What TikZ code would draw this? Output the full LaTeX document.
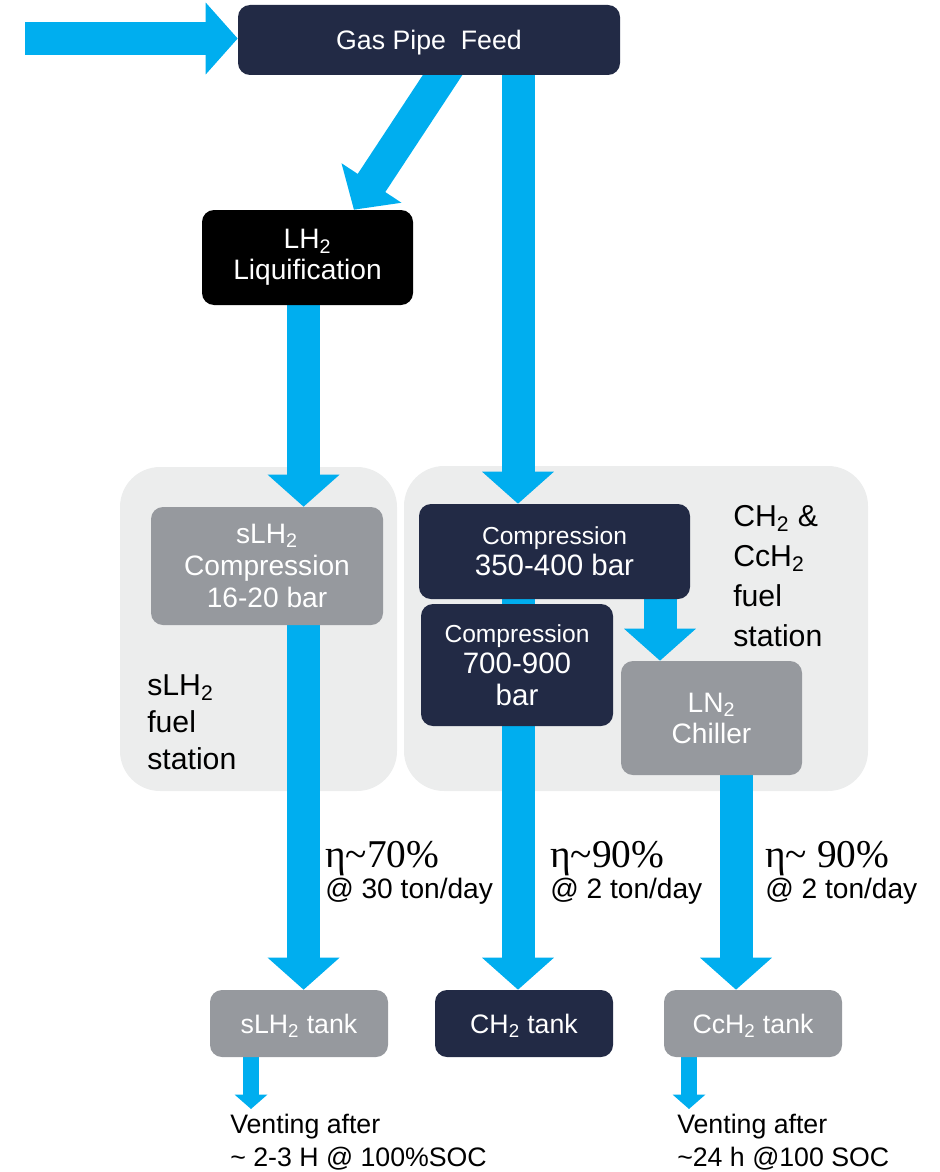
\documentclass[tikz,border=0pt]{standalone}
\usepackage{fontspec}
\setmainfont{Liberation Sans}
\newfontfamily\etafont{Liberation Serif}
\usetikzlibrary{arrows.meta, positioning}

\definecolor{navy}{HTML}{222A45}
\definecolor{flowblue}{HTML}{00AEEF}
\definecolor{boxgray}{HTML}{96999E}
\definecolor{panelgray}{HTML}{ECEDED}

\pgfdeclarelayer{panels}
\pgfdeclarelayer{flows}
\pgfsetlayers{panels,flows,main}

\begin{document}
\begin{tikzpicture}[
  box/.style={rectangle, rounded corners=0.3cm, text=white, align=center, inner sep=0pt},
  navybox/.style={box, fill=navy},
  graybox/.style={box, fill=boxgray},
  panel/.style={rectangle, rounded corners=1cm, fill=panelgray, inner sep=0pt},
  flow/.style={draw=flowblue, line width=0.825cm, -{Triangle[width=1.75cm, length=0.8cm]}},
  shaft/.style={draw=flowblue, line width=0.825cm},
  vent/.style={draw=flowblue, line width=0.4cm, -{Triangle[width=0.8cm, length=0.36cm]}},
  eta/.style={anchor=base west, inner sep=0pt, font=\etafont\fontsize{28}{30}\selectfont},
  rate/.style={anchor=base west, inner sep=0pt, font=\fontsize{20}{22}\selectfont},
  note/.style={anchor=west, align=left, inner sep=0pt}
]
\useasboundingbox (0,0) rectangle (23.5,-29.3);

% Station panels
\begin{pgfonlayer}{panels}
\node[panel, minimum width=6.925cm, minimum height=8.1cm] (panelL) at (6.4625,-15.725) {};
\node[panel, minimum width=11.6cm, minimum height=8.125cm] (panelR) at (15.9,-15.7125) {};
\end{pgfonlayer}

% Process boxes
\node[navybox, minimum width=9.55cm, minimum height=1.75cm, text depth=0pt, font=\fontsize{19}{22}\selectfont] (feed) at (10.725,-1.0) {Gas Pipe\ \ Feed};
\node[box, fill=black, minimum width=5.275cm, minimum height=2.375cm, font=\fontsize{20}{22}\selectfont] (liq) at (7.6875,-6.4375) {LH\textsubscript{2}\\Liquification};
\node[graybox, minimum width=5.8cm, minimum height=2.95cm, font=\fontsize{20}{23}\selectfont] (slhcomp) at (6.675,-14.15) {sLH\textsubscript{2}\\Compression\\16-20 bar};
\node[navybox, minimum width=6.775cm, minimum height=2.375cm, font=\fontsize{17.5}{22}\selectfont] (comp350) at (13.8625,-13.7875) {Compression\\\fontsize{21}{22}\selectfont 350-400 bar};
\node[navybox, minimum width=4.8cm, minimum height=3.05cm, font=\fontsize{17.5}{22.5}\selectfont] (comp700) at (12.925,-16.625) {Compression\\\fontsize{21}{22.5}\selectfont 700-900\\\fontsize{21}{22.5}\selectfont bar};
\node[graybox, minimum width=4.525cm, minimum height=2.85cm, font=\fontsize{20}{22}\selectfont] (chiller) at (17.7875,-17.95) {LN\textsubscript{2}\\Chiller};

% Tanks
\node[graybox, minimum width=4.45cm, minimum height=1.675cm, text depth=0pt, font=\fontsize{19}{22}\selectfont] (slhtank) at (7.475,-25.5875) {sLH\textsubscript{2} tank};
\node[navybox, minimum width=4.45cm, minimum height=1.675cm, text depth=0pt, font=\fontsize{19}{22}\selectfont] (chtank) at (13.1,-25.5875) {CH\textsubscript{2} tank};
\node[graybox, minimum width=4.45cm, minimum height=1.675cm, text depth=0pt, font=\fontsize{19}{22}\selectfont] (cchtank) at (18.825,-25.5875) {CcH\textsubscript{2} tank};

% Panel labels
\node[note, font=\fontsize{21.5}{26.3}\selectfont] (lblL) at (3.675,-18.05) {sLH\textsubscript{2}\\fuel\\station};
\node[note, font=\fontsize{21.5}{28.5}\selectfont] (lblR) at (18.325,-14.4) {CH\textsubscript{2} \&\\CcH\textsubscript{2}\\fuel\\station};

% Efficiencies
\node[eta] (etaL) at (8.125,-21.675) {η\textasciitilde70\%};
\node[eta] (etaM) at (13.75,-21.675) {η\textasciitilde90\%};
\node[eta] (etaR) at (19.125,-21.675) {η\textasciitilde\ 90\%};
\node[rate] (rateL) at (8.125,-22.45) {@ 30 ton/day};
\node[rate] (rateM) at (13.75,-22.45) {@ 2 ton/day};
\node[rate] (rateR) at (19.125,-22.45) {@ 2 ton/day};

% Venting notes
\node[note, font=\fontsize{19}{23}\selectfont] (ventTxtL) at (5.75,-28.55) {Venting after\\\textasciitilde{} 2-3 H @ 100\%SOC};
\node[note, font=\fontsize{19}{23}\selectfont] (ventTxtR) at (16.925,-28.55) {Venting after\\\textasciitilde24 h @100 SOC};

% Flow columns
\coordinate (colL) at (7.59,0);
\coordinate (colM) at (12.95,0);
\coordinate (colC) at (16.5,0);
\coordinate (colR) at (18.4,0);
\coordinate (src) at (0.625,-0.9625);
\coordinate (ventL) at (6.275,-27.725);
\coordinate (ventR) at (17.225,-27.725);

% Flows
\begin{pgfonlayer}{flows}
\draw[flow] (src) -- (src -| feed.west);
\draw[flow] ([xshift=0.52cm, yshift=0.28cm]feed.south) -- ([xshift=1.16cm]liq.north);
\draw[flow] (feed.south -| colM) -- (comp350.north -| colM);
\draw[flow] (liq.south -| colL) -- (slhcomp.north -| colL);
\draw[shaft] (comp350.south -| colM) -- (comp700.north -| colM);
\draw[flow] (comp350.south -| colC) -- (chiller.north -| colC);
\draw[flow] (slhcomp.south -| colL) -- (slhtank.north -| colL);
\draw[flow] (comp700.south -| colM) -- (chtank.north -| colM);
\draw[flow] (chiller.south -| colR) -- (cchtank.north -| colR);
\draw[vent] (slhtank.south -| ventL) -- (ventL);
\draw[vent] (cchtank.south -| ventR) -- (ventR);
\end{pgfonlayer}

\end{tikzpicture}
\end{document}
